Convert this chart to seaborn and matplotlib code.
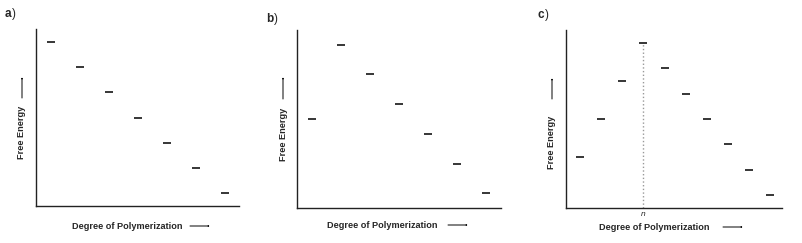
import numpy as np
import pandas as pd
import matplotlib
matplotlib.use("Agg")
import matplotlib.pyplot as plt
import seaborn as sns

# ── Data (free energy levels, arbitrary units) ────────────────────────────────
a_x = [1, 2, 3, 4, 5, 6, 7]
a_y = [6, 5, 4, 3, 2, 1, 0]
b_x = [1, 2, 3, 4, 5, 6, 7]
b_y = [2.5, 5, 4, 3, 2, 1, 0]
c_x = [1, 2, 3, 4, 5, 6, 7, 8, 9, 10]
c_y = [1.5, 3, 4.5, 6, 5, 4, 3, 2, 1, 0]
c_n = 4  # critical degree of polymerization

panel_letters = ["a", "b", "c"]
x_label = "Degree of Polymerization"
y_label = "Free Energy"

sns.set_style("white")
plt.rcParams["font.family"] = ["Liberation Sans", "DejaVu Sans"]

fig = plt.figure(figsize=(8.03, 2.43), dpi=100)
W, H = 803, 243

def px_axes(left, bottom, right, top):
    return fig.add_axes([left / W, 1 - bottom / H, (right - left) / W, (bottom - top) / H])

ax_a = px_axes(36, 206, 239, 29)
ax_b = px_axes(297, 208, 501, 30)
ax_c = px_axes(566, 208, 782, 30)

panels = [
    (ax_a, a_x, a_y, (0.48, 7.48), (-0.52, 6.52)),
    (ax_b, b_x, b_y, (0.48, 7.52), (-0.5, 5.5)),
    (ax_c, c_x, c_y, (0.33, 10.57), (-0.51, 6.52)),
]

for ax, xs, ys, xl, yl in panels:
    df = pd.DataFrame({"x": xs, "y": ys})
    sns.scatterplot(data=df, x="x", y="y", marker="_", s=36, linewidth=1.1,
                    color="black", ax=ax, legend=False)
    ax.set_xlim(*xl)
    ax.set_ylim(*yl)
    ax.set_xticks([])
    ax.set_yticks([])
    ax.set_xlabel("")
    ax.set_ylabel("")
    for s in ["top", "right"]:
        ax.spines[s].set_visible(False)
    for s in ["left", "bottom"]:
        ax.spines[s].set_color("#222222")
        ax.spines[s].set_linewidth(1.0)

# dotted marker at n in panel c
ax_c.vlines(c_n, ax_c.get_ylim()[0], max(c_y), colors="#999999",
            linestyles=":", linewidth=1.0)
ax_c.set_xticks([c_n])
ax_c.set_xticklabels(["n"], fontstyle="italic", fontsize=6)
ax_c.tick_params(axis="x", length=0, pad=2)

# axis labels with arrows (pixel positions from the reference)
def fig_xy(px, py):
    return px / W, 1 - py / H

arrow_kw = dict(arrowstyle="-|>,head_length=0.45,head_width=0.18", color="black",
                lw=0.7, shrinkA=0, shrinkB=0)

xl_pos = [(127, 226, 190, 210), (382, 225, 448, 468), (654, 227, 723, 743)]
yl_pos = [(22, 132, 98, 77), (18 + 265, 134, 99, 77), (552, 142, 99, 78)]

for (cx, cy, a0, a1) in xl_pos:
    fig.text(*fig_xy(cx, cy), x_label, ha="center", va="center",
             fontsize=6.6, fontweight="bold")
    fig.add_artist(matplotlib.patches.FancyArrowPatch(
        fig_xy(a0, cy), fig_xy(a1, cy), transform=fig.transFigure, **arrow_kw))

for (cx, cy, a0, a1) in yl_pos:
    fig.text(*fig_xy(cx, cy), y_label, ha="center", va="center", rotation=90,
             fontsize=6.6, fontweight="bold")
    fig.add_artist(matplotlib.patches.FancyArrowPatch(
        fig_xy(cx, a0), fig_xy(cx, a1), transform=fig.transFigure, **arrow_kw))

# panel letters
for letter, (px, py) in zip(panel_letters, [(8, 14), (270, 19), (541, 15)]):
    fig.text(*fig_xy(px, py), letter, ha="center", va="center",
             fontsize=8.5, fontweight="bold")
    fig.text(*fig_xy(px + 6, py), ")", ha="center", va="center", fontsize=8.5)

fig.savefig("out.png", dpi=100)
